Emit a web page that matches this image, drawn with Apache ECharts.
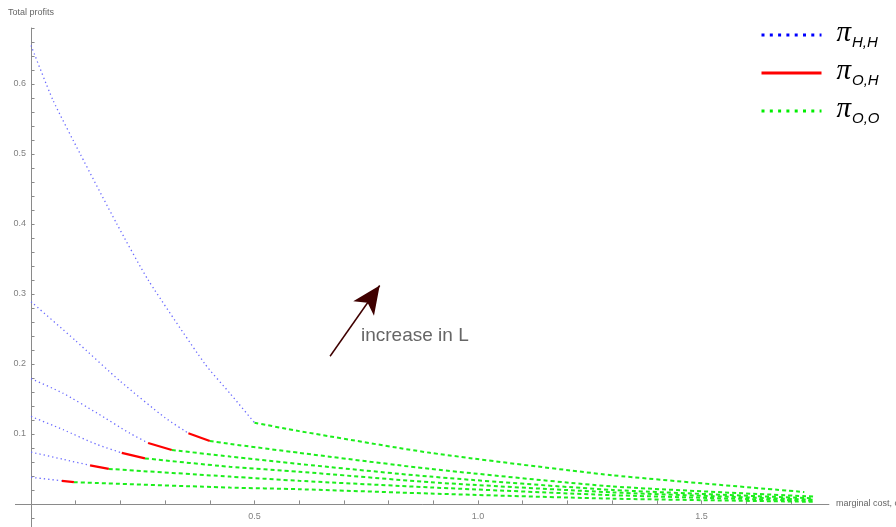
<!DOCTYPE html>
<html>
<head>
<meta charset="utf-8">
<script src="https://cdn.jsdelivr.net/npm/echarts@6/dist/echarts.min.js"></script>
<style>
  html, body { margin: 0; padding: 0; background: #fff; }
  #chart { width: 896px; height: 527px; }
</style>
</head>
<body>
<div id="chart"></div>
<script>
// Total profits against marginal cost c, one curve per value of L.
// Each curve: π_{H,H} regime (dotted), π_{O,H} regime (solid), π_{O,O} regime (dashed).

// π_{H,H} branches
const hh1 = [[0, 0.655], [0.049, 0.577], [0.11, 0.5], [0.192, 0.4], [0.262, 0.32], [0.389, 0.2], [0.445, 0.158], [0.5, 0.116]];
const hh2 = [[0, 0.289], [0.1, 0.233], [0.2, 0.175], [0.3, 0.123], [0.352, 0.101]];
const hh3 = [[0, 0.179], [0.072, 0.158], [0.147, 0.13], [0.221, 0.101], [0.262, 0.087]];
const hh4 = [[0, 0.125], [0.072, 0.106], [0.147, 0.085], [0.203, 0.073]];
const hh5 = [[0, 0.074], [0.07, 0.064], [0.132, 0.055]];
const hh6 = [[0, 0.038], [0.069, 0.033]];

// π_{O,H} branches
const oh2 = [[0.352, 0.101], [0.4, 0.09]];
const oh3 = [[0.262, 0.087], [0.315, 0.077]];
const oh4 = [[0.203, 0.073], [0.255, 0.065]];
const oh5 = [[0.132, 0.055], [0.174, 0.05]];
const oh6 = [[0.069, 0.033], [0.096, 0.031]];

// π_{O,O} branches
const oo1 = [[0.5, 0.116], [0.6, 0.104], [0.893, 0.073], [1.3, 0.041], [1.73, 0.017]];
const oo2 = [[0.4, 0.09], [0.445, 0.0857], [0.6, 0.073], [0.893, 0.05], [1.3, 0.025], [1.75, 0.0105]];
const oo3 = [[0.315, 0.077], [0.445, 0.0676], [0.6, 0.057], [0.893, 0.039], [1.3, 0.02], [1.75, 0.008]];
const oo4 = [[0.255, 0.065], [0.445, 0.053], [0.6, 0.046], [0.893, 0.031], [1.3, 0.0165], [1.75, 0.006]];
const oo5 = [[0.174, 0.05], [0.445, 0.039], [0.6, 0.033], [0.893, 0.0236], [1.3, 0.0125], [1.75, 0.0045]];
const oo6 = [[0.096, 0.031], [0.445, 0.0233], [0.6, 0.021], [0.893, 0.0148], [1.3, 0.0075], [1.75, 0.003]];

// Axis ticks
const xMajorTicks = [0.5, 1.0, 1.5];
const xMinorTicks = [0.1, 0.2, 0.3, 0.4, 0.6, 0.7, 0.8, 0.9, 1.1, 1.2, 1.3, 1.4, 1.6, 1.7];
const yMajorTicks = [0.1, 0.2, 0.3, 0.4, 0.5, 0.6];
const yMinorTicks = [-0.02, 0.02, 0.04, 0.06, 0.08, 0.12, 0.14, 0.16, 0.18, 0.22, 0.24, 0.26, 0.28,
  0.32, 0.34, 0.36, 0.38, 0.42, 0.44, 0.46, 0.48, 0.52, 0.54, 0.56, 0.58, 0.62, 0.64, 0.66, 0.68];

// Arrow annotation, data coordinates
const arrowFrom = [0.669, 0.211];
const arrowTo = [0.78, 0.312];

const X_MIN = -0.035, X_MAX = 1.785;
const Y_MIN = -0.033, Y_MAX = 0.68;

const NAME_HH = 'πHH', NAME_OH = 'πOH', NAME_OO = 'πOO';

const hhStyle = { color: '#6a6aff', width: 1.3, type: [1.3, 3] };
const ohStyle = { color: '#ff0000', width: 2.2, type: 'solid' };
const ooStyle = { color: '#1cee1c', width: 2, type: [4, 3] };

function branch(name, data, style, color) {
  return {
    type: 'line', name, data,
    symbol: 'none', showSymbol: false,
    smooth: 0.2,
    itemStyle: { color },
    lineStyle: style,
    silent: true, animation: false
  };
}

const series = [];
[hh1, hh2, hh3, hh4, hh5, hh6].forEach(d => series.push(branch(NAME_HH, d, hhStyle, '#0000ff')));
[oh2, oh3, oh4, oh5, oh6].forEach(d => series.push(branch(NAME_OH, d, ohStyle, '#ff0000')));
[oo1, oo2, oo3, oo4, oo5, oo6].forEach(d => series.push(branch(NAME_OO, d, ooStyle, '#00ee00')));

series[series.length - 1].markLine = {
  silent: true, animation: false,
  symbol: ['none', 'arrow'],
  symbolSize: [19, 28],
  label: { show: false },
  lineStyle: { color: '#3f0000', width: 1.5, type: 'solid' },
  data: [[{ coord: arrowFrom }, { coord: arrowTo }]]
};

// Plot area in pixels; axes sit on the zero lines inside it
const GRID_LEFT = 15.4, GRID_RIGHT = 67.1, GRID_TOP = 28, GRID_BOTTOM = 0;
const plotW = 896 - GRID_LEFT - GRID_RIGHT;
const plotH = 527 - GRID_TOP - GRID_BOTTOM;
const xZeroOffset = -(0 - X_MIN) / (X_MAX - X_MIN) * plotW;
const yZeroOffset = -(0 - Y_MIN) / (Y_MAX - Y_MIN) * plotH;

const axisGray = '#8a8a8a';
const labelStyle = { color: '#808080', fontSize: 9, fontFamily: 'Liberation Sans, Arial, sans-serif' };

const legendText = {
  [NAME_HH]: '{p|π}{s|H,H}',
  [NAME_OH]: '{p|π}{s|O,H}',
  [NAME_OO]: '{p|π}{s|O,O}'
};
const hiddenMarker = { color: 'rgba(0,0,0,0)', borderWidth: 0, opacity: 0 };

const option = {
  backgroundColor: '#fff',
  animation: false,
  grid: { left: GRID_LEFT, right: GRID_RIGHT, top: GRID_TOP, bottom: GRID_BOTTOM, containLabel: false, outerBoundsMode: 'none' },
  xAxis: {
    type: 'value', min: X_MIN, max: X_MAX,
    position: 'bottom', offset: yZeroOffset,
    name: 'marginal cost, c', nameLocation: 'end', nameGap: 7,
    nameTextStyle: { color: '#666', fontSize: 9, fontFamily: 'Liberation Sans, Arial, sans-serif', align: 'left', verticalAlign: 'middle' },
    axisLine: { onZero: false, lineStyle: { color: axisGray, width: 1 } },
    axisTick: { show: true, inside: true, length: 3.5, customValues: xMajorTicks.concat(xMinorTicks), lineStyle: { color: axisGray } },
    axisLabel: { show: true, margin: 8, customValues: xMajorTicks, formatter: v => v.toFixed(1), ...labelStyle },
    splitLine: { show: false }
  },
  yAxis: {
    type: 'value', min: Y_MIN, max: Y_MAX,
    position: 'left', offset: xZeroOffset,
    name: 'Total profits', nameLocation: 'end', nameGap: 11,
    nameTextStyle: { color: '#666', fontSize: 9, fontFamily: 'Liberation Sans, Arial, sans-serif', align: 'center' },
    axisLine: { onZero: false, lineStyle: { color: axisGray, width: 1 } },
    axisTick: { show: true, inside: true, length: 3.5, customValues: yMajorTicks.concat(yMinorTicks), lineStyle: { color: axisGray } },
    axisLabel: { show: true, margin: 5, customValues: yMajorTicks, formatter: v => v.toFixed(1), ...labelStyle },
    splitLine: { show: false }
  },
  legend: {
    orient: 'vertical', left: 755, top: 14,
    itemWidth: 60, itemHeight: 12, itemGap: 7,
    selectedMode: false,
    data: [
      { name: NAME_HH, itemStyle: hiddenMarker, lineStyle: { color: '#0000ff', width: 3, type: [3, 5.3] } },
      { name: NAME_OH, itemStyle: hiddenMarker, lineStyle: { color: '#ff0000', width: 3, type: 'solid' } },
      { name: NAME_OO, itemStyle: hiddenMarker, lineStyle: { color: '#00ee00', width: 3, type: [3, 5.3] } }
    ],
    formatter: name => legendText[name],
    textStyle: {
      rich: {
        p: { fontFamily: 'Liberation Serif, serif', fontStyle: 'italic', fontSize: 29, color: '#000', lineHeight: 30, verticalAlign: 'bottom', padding: [0, 0, 2, 10] },
        s: { fontFamily: 'Liberation Sans, Arial, sans-serif', fontStyle: 'italic', fontSize: 15, color: '#000', lineHeight: 30, verticalAlign: 'bottom', padding: [0, 0, 0, 1] }
      }
    }
  },
  graphic: [{
    type: 'text', left: 361, top: 326, silent: true,
    style: { text: 'increase in L', fill: '#666', fontSize: 19, fontFamily: 'Liberation Sans, Arial, sans-serif' }
  }],
  series
};

const chart = echarts.init(document.getElementById('chart'), null, { renderer: 'canvas' });
chart.setOption(option);
</script>
</body>
</html>
